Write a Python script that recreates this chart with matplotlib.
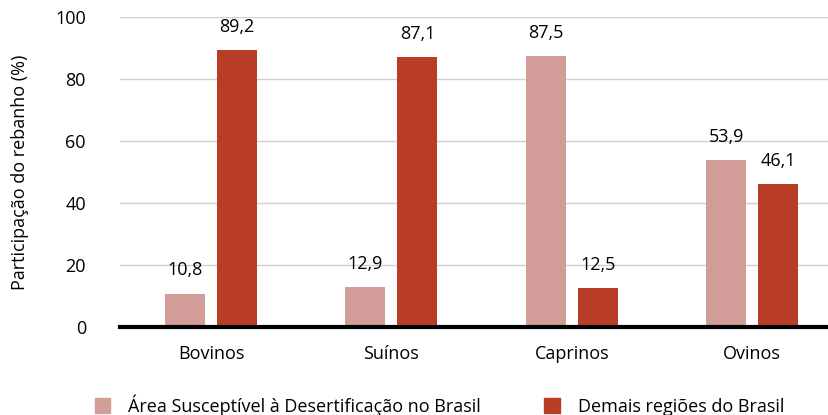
import matplotlib
matplotlib.use("Agg")
import matplotlib.pyplot as plt
import numpy as np
from matplotlib.patches import Patch

plt.rcParams['font.family'] = ['Open Sans', 'DejaVu Sans']

categories = ["Bovinos", "Suínos", "Caprinos", "Ovinos"]
asd_values = [10.8, 12.9, 87.5, 53.9]
other_values = [89.2, 87.1, 12.5, 46.1]
asd_labels = ["10,8", "12,9", "87,5", "53,9"]
other_labels = ["89,2", "87,1", "12,5", "46,1"]
series_names = ["Área Susceptível à Desertificação no Brasil", "Demais regiões do Brasil"]
yticks = [0, 20, 40, 60, 80, 100]

c_asd = "#d29c98"
c_other = "#b83c26"
fs = 13

fig = plt.figure(figsize=(8.29, 4.15), dpi=100)
ax = fig.add_axes([120/829, 1 - 327/415, (829-120)/829, (327-17)/415])

x = np.arange(len(categories))
w = 0.222
off = 0.144
ax.bar(x - off, asd_values, w, color=c_asd, zorder=3)
ax.bar(x + off, other_values, w, color=c_other, zorder=3)

for xi, v, lab in zip(x - off, asd_values, asd_labels):
    ax.text(xi, v + 7.5, lab, ha="center", va="center", fontsize=fs)
for xi, v, lab in zip(x + off, other_values, other_labels):
    ax.text(xi, v + 7.5, lab, ha="center", va="center", fontsize=fs)

ax.set_xlim(-0.505, 3.427)
ax.set_ylim(0, 100)
ax.set_yticks(yticks)
ax.set_yticklabels([str(t) for t in yticks], fontsize=fs)
ax.set_xticks(x)
ax.set_xticklabels(categories, fontsize=fs)
ax.tick_params(axis="both", length=0)
ax.tick_params(axis="y", pad=24.5)
ax.tick_params(axis="x", pad=13)
ax.yaxis.grid(True, color="#d0d0d0", linewidth=1, zorder=0)
ax.set_axisbelow(True)
for s in ["top", "right", "left"]:
    ax.spines[s].set_visible(False)
ax.spines["bottom"].set_linewidth(3)
ax.spines["bottom"].set_color("black")
ax.spines["bottom"].set_zorder(4)

ax.set_ylabel("Participação do rebanho (%)", fontsize=fs)
ax.yaxis.set_label_coords(-(120 - 29) / 709, 0.5)

handles = [Patch(color=c_asd), Patch(color=c_other)]
fig.legend(handles, series_names, loc="center", bbox_to_anchor=(0.530, 1 - 405/415),
           ncol=2, frameon=False, fontsize=fs, handlelength=0.85, handleheight=0.85,
           columnspacing=3.5, handletextpad=1.0)

fig.savefig("out.png", dpi=100)
